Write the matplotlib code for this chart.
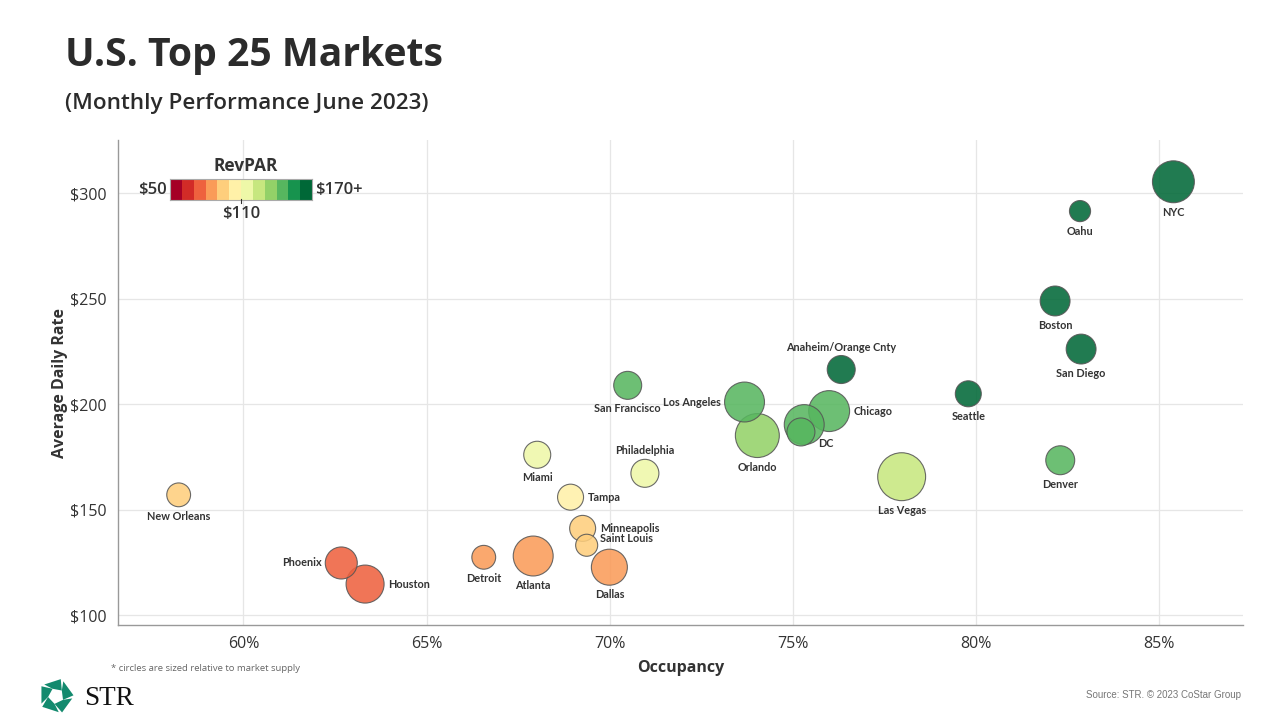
import numpy as np
import matplotlib
matplotlib.use("Agg")
import matplotlib.pyplot as plt
from matplotlib.colors import ListedColormap, BoundaryNorm
from matplotlib.patches import Polygon
from matplotlib.ticker import FuncFormatter

# market data, June 2023
markets = ["NYC", "Oahu", "Boston", "San Diego", "Seattle", "Denver",
           "Anaheim/Orange Cnty", "Chicago", "DC", "", "Las Vegas", "Orlando",
           "Los Angeles", "San Francisco", "Philadelphia", "Miami", "Tampa",
           "New Orleans", "Minneapolis", "Saint Louis", "Dallas", "Atlanta",
           "Detroit", "Phoenix", "Houston"]
occupancy = [85.39, 82.84, 82.16, 82.87, 79.79, 82.30,
             76.32, 75.99, 75.31, 75.22, 77.97, 74.03,
             73.68, 70.49, 70.96, 68.02, 68.93,
             58.23, 69.26, 69.37, 69.99, 67.91,
             66.56, 62.67, 63.32]
adr = [305.5, 291.6, 249.0, 226.2, 205.0, 173.5,
       216.5, 196.8, 190.4, 186.9, 165.7, 185.2,
       201.1, 209.0, 167.3, 176.1, 156.0,
       157.1, 141.2, 133.2, 122.8, 128.1,
       127.5, 124.8, 114.8]
supply = [130, 33, 66, 66, 50, 62,
          58, 124, 118, 58, 170, 143,
          118, 58, 58, 54, 50,
          42, 50, 36, 96, 118,
          42, 76, 107]

x_ticks = [60, 65, 70, 75, 80, 85]
y_ticks = [100, 150, 200, 250, 300]
revpar_edges = list(range(50, 171, 10))

# label placement: side of the circle, or explicit pixel offset
label_pos = {"Anaheim/Orange Cnty": "t", "Philadelphia": "t", "Chicago": "r",
             "Tampa": "r", "Houston": "r", "Los Angeles": "l", "Phoenix": "l",
             "DC": (14, 19), "Minneapolis": (17, 0), "Saint Louis": (13, -7)}

occ = np.array(occupancy)
rate = np.array(adr)
revpar = occ / 100 * rate

cmap = ListedColormap(plt.cm.RdYlGn(np.linspace(0, 1, 12)))
norm = BoundaryNorm(revpar_edges, cmap.N, clip=True)

dark = "#333333"
fig = plt.figure(figsize=(12.8, 7.2), dpi=100)
ax = fig.add_axes([117.5 / 1280, 95 / 720, (1243 - 117.5) / 1280, 485 / 720])

order = np.argsort(supply)[::-1]
sizes = np.array(supply) * 7.0
ax.scatter(occ[order], rate[order], s=sizes[order], c=cmap(norm(revpar[order])),
           alpha=0.87, edgecolors="#555555", linewidths=0.8, zorder=3)

px = 100 / 72.0
for i, name in enumerate(markets):
    if not name:
        continue
    r = np.sqrt(sizes[i]) / 2 * px
    pos = label_pos.get(name, "b")
    if pos == "b":
        off, ha, va = (0, -(r + 4)), "center", "top"
    elif pos == "t":
        off, ha, va = (0, r + 3), "center", "bottom"
    elif pos == "r":
        off, ha, va = (r + 4, 0), "left", "center"
    elif pos == "l":
        off, ha, va = (-(r + 4), 0), "right", "center"
    else:
        off, ha, va = (pos[0], -pos[1]), "left", "center"
    ax.annotate(name, (occ[i], rate[i]), xytext=off, textcoords="offset pixels",
                ha=ha, va=va, fontsize=7.8, fontweight="bold", color=dark,
                family="Lato", zorder=5)

ax.set_xlim(56.56, 87.29)
ax.set_ylim(95.4, 325.3)
ax.set_xticks(x_ticks)
ax.set_yticks(y_ticks)
ax.xaxis.set_major_formatter(FuncFormatter(lambda v, p: f"{v:.0f}%"))
ax.yaxis.set_major_formatter(FuncFormatter(lambda v, p: f"${v:.0f}"))
ax.tick_params(length=0, labelsize=11.5, labelcolor=dark, pad=8)
for lab in ax.get_xticklabels() + ax.get_yticklabels():
    lab.set_family("Open Sans")
ax.grid(color="#e6e6e6", lw=0.9, zorder=0)
ax.set_axisbelow(True)
for s in ["top", "right"]:
    ax.spines[s].set_visible(False)
for s in ["left", "bottom"]:
    ax.spines[s].set_color("#999999")
    ax.spines[s].set_linewidth(1.0)
ax.set_xlabel("Occupancy", fontsize=11.5, fontweight="bold", color=dark,
              family="Open Sans", labelpad=6)
ax.set_ylabel("Average Daily Rate", fontsize=11.5, fontweight="bold", color=dark,
              family="Open Sans", labelpad=1)

# RevPAR legend bar
cax = fig.add_axes([170 / 1280, (720 - 200) / 720, 142 / 1280, 21 / 720], zorder=4)
cax.pcolormesh(np.array(revpar_edges), [0, 1],
               np.array([[(a + b) / 2 for a, b in zip(revpar_edges[:-1], revpar_edges[1:])]]),
               cmap=cmap, norm=norm)
cax.set_xticks([])
cax.set_yticks([])
for s in cax.spines.values():
    s.set_color("#aaaaaa")
    s.set_linewidth(0.8)

# page overlay in pixel coordinates
ov = fig.add_axes([0, 0, 1, 1], zorder=5)
ov.set_xlim(0, 1280)
ov.set_ylim(720, 0)
ov.axis("off")
ov.text(246, 166, "RevPAR", ha="center", va="center", fontsize=12.5,
        fontweight="bold", color=dark, family="Open Sans")
ov.text(167, 190, "$50", ha="right", va="center", fontsize=12,
        fontweight="semibold", color=dark, family="Open Sans")
ov.text(315, 190, "$170+", ha="left", va="center", fontsize=12,
        fontweight="semibold", color=dark, family="Open Sans")
ov.text(241, 214, "$110", ha="center", va="center", fontsize=12,
        fontweight="semibold", color=dark, family="Open Sans")
ov.plot([241, 241], [199, 203], color=dark, lw=0.8)

ov.text(65, 66, "U.S. Top 25 Markets", ha="left", va="baseline", fontsize=28.2,
        fontweight="bold", color="#2b2b2b", family="Open Sans")
ov.text(65, 109, "(Monthly Performance June 2023)", ha="left", va="baseline",
        fontsize=16.2, fontweight="semibold", color="#2b2b2b", family="Open Sans")

ov.text(111, 671, "* circles are sized relative to market supply", ha="left",
        va="baseline", fontsize=6.8, color="#666666", family="Open Sans")
ov.text(1241, 698, "Source: STR. \u00a9 2023 CoStar Group", ha="right",
        va="baseline", fontsize=7, color="#777777", family="Liberation Sans")

# STR logo
cx, cy = 56, 696
ang = np.radians(-90 + 72 * np.arange(6) + 18)
outer = np.c_[cx + 18 * np.cos(ang), cy + 18 * np.sin(ang)]
inner = np.c_[cx + 8 * np.cos(ang + 0.5), cy + 8 * np.sin(ang + 0.5)]
for k in range(5):
    a, b = outer[k], outer[k + 1]
    pts = [a + 0.14 * (b - a), a + 0.96 * (b - a), inner[k + 1], inner[k]]
    ov.add_patch(Polygon(pts, closed=True, color="#138a6e", lw=0))
ov.text(84, 705, "STR", ha="left", va="baseline", fontsize=19.5,
        color="#111111", family="Liberation Serif")

fig.savefig("out.png", dpi=100)
